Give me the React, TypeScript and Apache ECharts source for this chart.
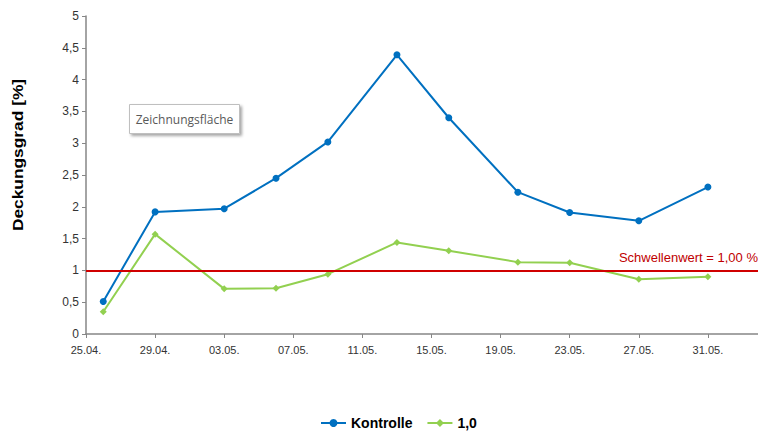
import React, { useEffect, useRef } from "react";
import * as echarts from "echarts";

const dates = ["2015-04-26", "2015-04-29", "2015-05-03", "2015-05-06", "2015-05-09", "2015-05-13", "2015-05-16", "2015-05-20", "2015-05-23", "2015-05-27", "2015-05-31"];
const kontrolle = [0.51, 1.92, 1.97, 2.45, 3.02, 4.39, 3.4, 2.23, 1.91, 1.78, 2.31];
const variante = [0.35, 1.57, 0.71, 0.72, 0.94, 1.44, 1.31, 1.13, 1.12, 0.86, 0.9];
const seriesNames = ["Kontrolle", "1,0"];
const threshold = 1;
const thresholdLabel = "Schwellenwert = 1,00 %";
const yTicks = [0, 0.5, 1, 1.5, 2, 2.5, 3, 3.5, 4, 4.5, 5];
const xTickDays = [0, 4, 8, 12, 16, 20, 24, 28, 32, 36];
const startDate = "2015-04-25";
const axisTitle = "Deckungsgrad [%]";
const boxText = "Zeichnungsfläche";

const DAY = 86400000;
const base = Date.parse(startDate + "T00:00:00Z");
const toDay = (d: string) => Math.round((Date.parse(d + "T00:00:00Z") - base) / DAY);
const fmtDay = (v: number) => {
  const dt = new Date(base + v * DAY);
  const dd = String(dt.getUTCDate()).padStart(2, "0");
  const mm = String(dt.getUTCMonth() + 1).padStart(2, "0");
  return dd + "." + mm + ".";
};

export default function App() {
  const ref = useRef<HTMLDivElement>(null);
  useEffect(() => {
    const chart = echarts.init(ref.current!, null, { renderer: "svg" });
    const font = "'Liberation Sans', Arial, sans-serif";
    chart.setOption({
      animation: false,
      backgroundColor: "#ffffff",
      grid: { left: 86, right: 0, top: 16, bottom: 98 },
      xAxis: {
        type: "value",
        min: 0,
        max: 38.9,
        interval: 4,
        axisLine: { lineStyle: { color: "#868686", width: 1.5 } },
        axisTick: { show: true, length: 4, customValues: xTickDays, lineStyle: { color: "#868686" } },
        axisLabel: {
          customValues: xTickDays,
          formatter: (v: number) => fmtDay(v),
          fontFamily: font,
          fontSize: 11,
          color: "#333333",
          margin: 10,
        },
        splitLine: { show: false },
      },
      yAxis: {
        type: "value",
        min: 0,
        max: 5,
        interval: 0.5,
        axisLine: { show: true, lineStyle: { color: "#868686", width: 1.5 } },
        axisTick: { show: true, length: 4, lineStyle: { color: "#868686" } },
        axisLabel: {
          formatter: (v: number) => (yTicks.includes(v) ? String(v).replace(".", ",") : ""),
          fontFamily: font,
          fontSize: 12,
          color: "#333333",
          margin: 7,
        },
        splitLine: { show: false },
      },
      legend: {
        bottom: 2,
        left: 320,
        padding: 0,
        itemWidth: 25,
        itemHeight: 10,
        itemGap: 14,
        textStyle: { fontFamily: font, fontSize: 14, fontWeight: "bold", color: "#000000" },
        data: seriesNames,
      },
      graphic: [
        {
          type: "text",
          x: 18,
          y: 155,
          rotation: Math.PI / 2,
          scaleX: 1.24,
          style: {
            text: axisTitle,
            fontFamily: font,
            fontSize: 14,
            fontWeight: "bold",
            fill: "#000000",
            textAlign: "center",
            textVerticalAlign: "middle",
          },
        },
        {
          type: "group",
          left: 129,
          top: 104,
          children: [
            {
              type: "rect",
              shape: { x: 0, y: 0, width: 110, height: 29 },
              style: {
                fill: "#ffffff",
                stroke: "#bfbfbf",
                lineWidth: 1,
                shadowBlur: 3,
                shadowOffsetX: 2,
                shadowOffsetY: 2,
                shadowColor: "rgba(0,0,0,0.35)",
              },
            },
            {
              type: "text",
              x: 55,
              y: 15,
              style: {
                text: boxText,
                fontFamily: "'Open Sans', 'DejaVu Sans', sans-serif",
                fontSize: 12,
                fill: "#595959",
                textAlign: "center",
                textVerticalAlign: "middle",
              },
            },
          ],
        },
      ],
      series: [
        {
          name: seriesNames[0],
          type: "line",
          data: dates.map((d, i) => [toDay(d), kontrolle[i]]),
          symbol: "circle",
          symbolSize: 7,
          showAllSymbol: true,
          lineStyle: { color: "#0070C0", width: 2 },
          itemStyle: { color: "#0070C0" },
          markLine: {
            silent: true,
            symbol: "none",
            lineStyle: { color: "#D00000", width: 2, type: "solid" },
            label: {
              position: "insideEndTop",
              formatter: thresholdLabel,
              fontFamily: font,
              fontSize: 13,
              color: "#C00000",
              distance: [0, 6],
            },
            data: [{ yAxis: threshold }],
          },
        },
        {
          name: seriesNames[1],
          type: "line",
          data: dates.map((d, i) => [toDay(d), variante[i]]),
          symbol: "diamond",
          symbolSize: 7,
          showAllSymbol: true,
          lineStyle: { color: "#92D050", width: 2 },
          itemStyle: { color: "#92D050" },
        },
      ],
    });
    return () => chart.dispose();
  }, []);
  return <div ref={ref} style={{ position: "fixed", left: 0, top: 0, width: 758, height: 432 }} />;
}
